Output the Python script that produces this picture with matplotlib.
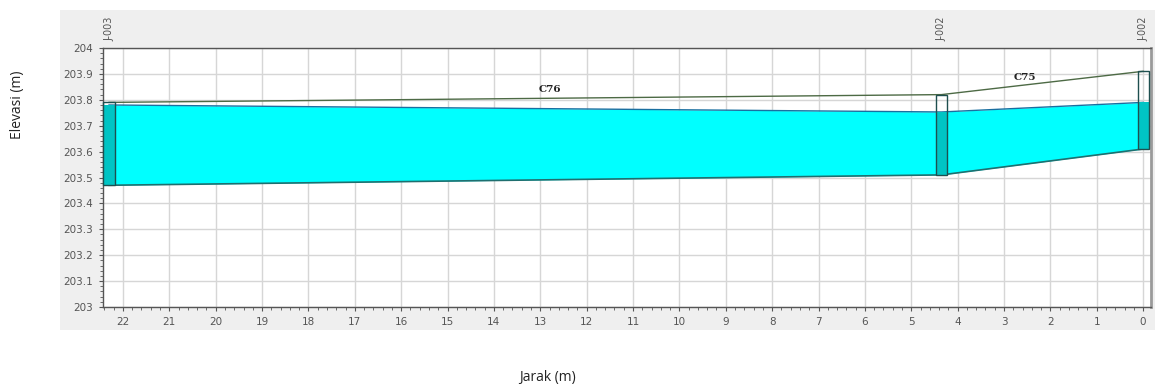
import matplotlib
matplotlib.use("Agg")
import matplotlib.pyplot as plt
from matplotlib.patches import Rectangle
import matplotlib.transforms as mtransforms

# Profile data (distance measured from the downstream node, in m)
node_names = ["J-003", "J-002", "J-002"]
node_dist = [22.3, 4.35, 0.0]
ground_elev = [203.79, 203.82, 203.91]
water_elev = [203.78, 203.753, 203.79]
invert_elev = [203.47, 203.51, 203.61]
link_names = ["C76", "C75"]
link_label_pos = [(12.8, 203.838), (2.56, 203.888)]

x_ticks = list(range(0, 23))
y_ticks = [203.0, 203.1, 203.2, 203.3, 203.4, 203.5, 203.6, 203.7, 203.8, 203.9, 204.0]
y_tick_labels = ["203", "203.1", "203.2", "203.3", "203.4", "203.5", "203.6",
                 "203.7", "203.8", "203.9", "204"]

W, H = 1155, 387
fig = plt.figure(figsize=(W / 100, H / 100), dpi=100)
fig.patch.set_facecolor("white")

# grey panel behind the profile
panel = Rectangle((60 / W, 1 - 330 / H), (W - 60) / W, 320 / H,
                  transform=fig.transFigure, facecolor="#efefef",
                  edgecolor="none", zorder=-10)
fig.patches.append(panel)

ax = fig.add_axes([103 / W, 1 - 307 / H, (1151 - 103) / W, (307 - 48) / H])
ax.set_zorder(1)
ax.set_facecolor("white")
ax.set_xlim(22.43, -0.17)
ax.set_ylim(203.0, 204.0)

ax.set_xticks(x_ticks)
ax.set_xticklabels([str(v) for v in x_ticks])
ax.set_yticks(y_ticks)
ax.set_yticklabels(y_tick_labels)
ax.grid(True, color="#d6d6d6", linewidth=1.0, zorder=0)
ax.set_axisbelow(True)

ax.tick_params(axis="both", labelsize=7.5, colors="#555555", length=3,
               width=0.8, pad=4)
ax.minorticks_on()
ax.tick_params(which="minor", length=2, width=0.6, color="#555555")

for side in ["left", "bottom", "top"]:
    ax.spines[side].set_color("#555555")
    ax.spines[side].set_linewidth(1.0)
ax.spines["right"].set_color("#9a9a9a")
ax.spines["right"].set_linewidth(2.0)

# water between invert and water surface
ax.fill_between(node_dist, invert_elev, water_elev, color="#00ffff",
                linewidth=0, zorder=2)
ax.plot(node_dist, water_elev, color="#1a6fa0", linewidth=1.0, zorder=3)
ax.plot(node_dist, invert_elev, color="#1f6f6f", linewidth=1.2, zorder=3)
ax.plot(node_dist, ground_elev, color="#4d6a45", linewidth=1.0, zorder=3)

# node (manhole) rectangles
node_w = 0.24
for xd, g, w, inv in zip(node_dist, ground_elev, water_elev, invert_elev):
    ax.add_patch(Rectangle((xd - node_w / 2, inv), node_w, w - inv,
                           facecolor="#00c4c4", edgecolor="none", zorder=4))
    ax.add_patch(Rectangle((xd - node_w / 2, inv), node_w, g - inv,
                           facecolor="none", edgecolor="#1e4f4f",
                           linewidth=1.0, zorder=5, clip_on=False))

for name, (lx, ly) in zip(link_names, link_label_pos):
    ax.text(lx, ly, name, fontsize=7.5, fontweight="bold", family="DejaVu Serif",
            color="#222222", ha="center", va="center", zorder=6)

trans = mtransforms.blended_transform_factory(ax.transData, ax.transAxes)
for name, xd in zip(node_names, node_dist):
    ax.text(xd, 1.073, name, rotation=90, fontsize=7, color="#555555",
            ha="center", va="center", transform=trans, clip_on=False)

fig.text(17 / W, 1 - 105 / H, "Elevasi (m)", rotation=90, fontsize=10,
         family="Open Sans", color="#222222", ha="center", va="center")
fig.text(548 / W, 1 - 378 / H, "Jarak (m)", fontsize=10, family="Open Sans",
         color="#222222", ha="center", va="center")

fig.savefig("out.png", dpi=100)
